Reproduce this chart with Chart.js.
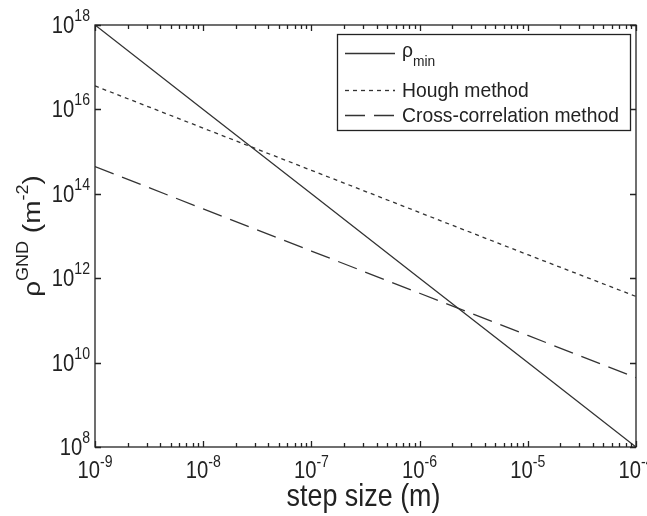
<!DOCTYPE html>
<html>
<head>
<meta charset="utf-8">
<script src="https://cdn.jsdelivr.net/npm/chart.js@4.4.0/dist/chart.umd.min.js"></script>
<style>
    html, body { margin: 0; padding: 0; background: #fff; }
    #wrap { width: 647px; height: 516px; }
</style>
</head>
<body>
<div id="wrap"><canvas id="chart" width="647" height="516"></canvas></div>
<script>
// step size (m) and the GND density estimates (m^-2)
const stepSizes = [1e-9, 1e-8, 1e-7, 1e-6, 1e-5, 1e-4];
const rhoMin = [1e18, 1e16, 1e14, 1e12, 1e10, 1e8];
const houghMethod = [3.6e16, 3.6e15, 3.6e14, 3.6e13, 3.6e12, 3.7e11];
const crossCorrelation = [4.4e14, 4.4e13, 4.4e12, 4.4e11, 4.4e10, 4.4e9];

const seriesLabels = ['ρ_{min}', 'Hough method', 'Cross-correlation method'];

// tick labels (powers of ten)
const xTickExps = [-9, -8, -7, -6, -5, -4];
const yTickExps = [8, 10, 12, 14, 16, 18];

const xTitle = 'step size (m)';
const yTitle = 'ρ^{GND} (m^{-2})';

const INK = '#222';
const FONT = '"Liberation Sans", Arial, sans-serif';

// split "a^{b}_{c}" into normal / superscript / subscript runs
function richParts(str) {
    const parts = [];
    const re = /([_^])\{([^}]*)\}/g;
    let last = 0, m;
    while ((m = re.exec(str))) {
        if (m.index > last) parts.push({ text: str.slice(last, m.index), kind: 'n' });
        parts.push({ text: m[2], kind: m[1] === '^' ? 'sup' : 'sub' });
        last = re.lastIndex;
    }
    if (last < str.length) parts.push({ text: str.slice(last), kind: 'n' });
    return parts;
}

function drawRich(ctx, str, x, y, opt) {
    const parts = richParts(str);
    const fontFor = p => (p.kind === 'n' ? opt.size : opt.small) + 'px ' + FONT;
    let total = 0;
    parts.forEach(p => {
        ctx.font = fontFor(p);
        p.w = ctx.measureText(p.text).width;
        total += p.w;
    });
    ctx.save();
    ctx.translate(x, y);
    if (opt.rotate) ctx.rotate(opt.rotate);
    ctx.scale(opt.sx || 1, opt.sy || 1);
    let cx = opt.align === 'center' ? -total / 2 : opt.align === 'right' ? -total : 0;
    ctx.textAlign = 'left';
    ctx.textBaseline = 'alphabetic';
    ctx.fillStyle = INK;
    parts.forEach(p => {
        ctx.font = fontFor(p);
        const dy = p.kind === 'sup' ? -opt.rise : p.kind === 'sub' ? opt.drop : 0;
        ctx.fillText(p.text, cx, dy);
        cx += p.w;
    });
    ctx.restore();
}

// frame, inward ticks, labels, titles and legend box (MATLAB style)
const matlabAxes = {
    id: 'matlabAxes',
    afterDatasetsDraw(chart) {
        const ctx = chart.ctx;
        const { left, right, top, bottom } = chart.chartArea;
        const xs = chart.scales.x, ys = chart.scales.y;

        ctx.save();
        ctx.strokeStyle = INK;
        ctx.lineWidth = 1.3;
        ctx.setLineDash([]);
        ctx.strokeRect(left, top, right - left, bottom - top);

        ctx.beginPath();
        xTickExps.forEach(e => {
            const base = Math.pow(10, e);
            for (let k = 1; k <= 9; k++) {
                const v = base * k;
                if (v > xs.max * 1.0001) break;
                const px = Math.round(xs.getPixelForValue(v)) + 0.5;
                const len = k === 1 ? 6 : 4;
                ctx.moveTo(px, bottom); ctx.lineTo(px, bottom - len);
                ctx.moveTo(px, top); ctx.lineTo(px, top + len);
            }
        });
        yTickExps.forEach(e => {
            const py = Math.round(ys.getPixelForValue(Math.pow(10, e))) + 0.5;
            ctx.moveTo(left, py); ctx.lineTo(left + 6, py);
            ctx.moveTo(right, py); ctx.lineTo(right - 6, py);
        });
        ctx.stroke();

        xTickExps.forEach(e => {
            const px = xs.getPixelForValue(Math.pow(10, e));
            drawRich(ctx, '10^{' + e + '}', px, bottom + 31, { size: 23, small: 16, rise: 11, align: 'center', sx: 0.88 });
        });
        yTickExps.forEach(e => {
            const py = ys.getPixelForValue(Math.pow(10, e));
            drawRich(ctx, '10^{' + e + '}', left - 5, py + 8, { size: 23, small: 16, rise: 12, align: 'right', sx: 0.88 });
        });

        drawRich(ctx, xTitle, (left + right) / 2 - 2, 506, { size: 32, small: 20, rise: 12, align: 'center', sx: 0.84 });
        drawRich(ctx, yTitle, 40, (top + bottom) / 2, { size: 28, small: 18, rise: 14, align: 'center', rotate: -Math.PI / 2, sy: 0.88 });

        // legend
        const bx = 337.5, by = 34.5, bw = 293, bh = 96;
        const rows = [53, 90, 115];
        ctx.fillStyle = '#fff';
        ctx.fillRect(bx, by, bw, bh);
        ctx.strokeStyle = INK;
        ctx.lineWidth = 1.3;
        ctx.strokeRect(bx, by, bw, bh);
        chart.data.datasets.forEach((ds, i) => {
            const ry = rows[i] + 0.5;
            ctx.beginPath();
            ctx.setLineDash(ds.borderDash || []);
            ctx.lineWidth = ds.borderWidth;
            ctx.strokeStyle = ds.borderColor;
            ctx.moveTo(345, ry); ctx.lineTo(395, ry);
            ctx.stroke();
            ctx.setLineDash([]);
            const hasSub = ds.label.indexOf('_{') >= 0;
            drawRich(ctx, ds.label, 402, rows[i] + (hasSub ? 4 : 7), { size: 21, small: 15, drop: 9, rise: 8, sx: 0.92 });
        });
        ctx.restore();
    }
};

const pairs = ys => stepSizes.map((x, i) => ({ x, y: ys[i] }));

new Chart(document.getElementById('chart'), {
    type: 'line',
    data: {
        datasets: [
            { label: seriesLabels[0], data: pairs(rhoMin), borderDash: [] },
            { label: seriesLabels[1], data: pairs(houghMethod), borderDash: [4, 4] },
            { label: seriesLabels[2], data: pairs(crossCorrelation), borderDash: [20, 9] }
        ].map(ds => Object.assign(ds, {
            borderColor: '#333',
            borderWidth: 1.3,
            pointRadius: 0,
            tension: 0,
            fill: false
        }))
    },
    options: {
        responsive: false,
        animation: false,
        layout: { padding: { left: 95, right: 11, top: 25, bottom: 69 } },
        scales: {
            x: { type: 'logarithmic', min: 1e-9, max: 1e-4, display: false },
            y: { type: 'logarithmic', min: 1e8, max: 1e18, display: false }
        },
        plugins: {
            legend: { display: false },
            tooltip: { enabled: false }
        }
    },
    plugins: [matlabAxes]
});
</script>
</body>
</html>
